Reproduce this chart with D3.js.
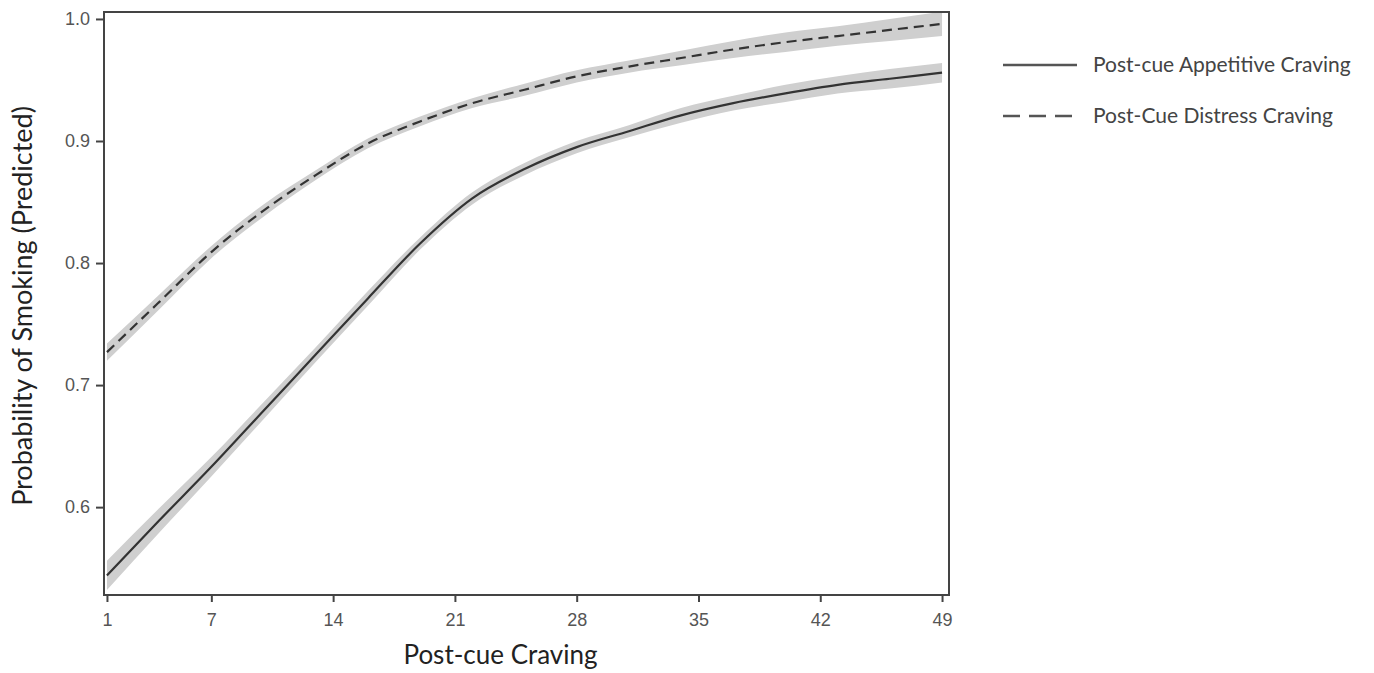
<!doctype html>
<html>
<head>
<meta charset="UTF-8">
<title>Probability of Smoking</title>
<style>
  body { margin: 0; background: #fff; }
</style>
</head>
<body>
<div id="chart"></div>
<script src="https://cdn.jsdelivr.net/npm/d3@7"></script>
<script>
// values
var craving = [1, 4, 7, 10, 13, 16, 19, 22, 25, 28, 31, 34, 37, 40, 43, 46, 49];
var appetitive = [0.544, 0.589, 0.633, 0.679, 0.725, 0.771, 0.816, 0.853, 0.877, 0.895, 0.908, 0.921, 0.931, 0.939, 0.946, 0.951, 0.956];
var appetitiveCI = [0.012, 0.010, 0.008, 0.007, 0.006, 0.006, 0.005, 0.005, 0.005, 0.005, 0.005, 0.006, 0.006, 0.007, 0.007, 0.008, 0.008];
var distress = [0.727, 0.768, 0.809, 0.843, 0.872, 0.898, 0.916, 0.931, 0.942, 0.953, 0.961, 0.968, 0.975, 0.981, 0.986, 0.991, 0.996];
var distressCI = [0.007, 0.006, 0.005, 0.005, 0.004, 0.004, 0.004, 0.004, 0.005, 0.005, 0.005, 0.006, 0.007, 0.008, 0.008, 0.009, 0.010];
var xTicks = [1, 7, 14, 21, 28, 35, 42, 49];
var yTicks = [0.6, 0.7, 0.8, 0.9, 1.0];
var seriesNames = ["Post-cue Appetitive Craving", "Post-Cue Distress Craving"];

var W = 1374, H = 673;
var margin = {top: 12, right: 425, bottom: 78, left: 104};
var width = W - margin.left - margin.right,
    height = H - margin.top - margin.bottom;

var svg = d3.select("#chart").append("svg")
    .attr("width", W).attr("height", H);
var g = svg.append("g")
    .attr("transform", "translate(" + margin.left + "," + margin.top + ")");

var x = d3.scaleLinear().domain([0.83, 49.4]).range([0, width]);
var y = d3.scaleLinear().domain([0.528, 1.0057]).range([height, 0]);

g.append("clipPath").attr("id", "clip")
  .append("rect").attr("width", width).attr("height", height);

function rows(vals, ci) {
  return craving.map(function(c, i) { return {x: c, y: vals[i], lo: vals[i] - ci[i], hi: vals[i] + ci[i]}; });
}
var series = [
  {name: seriesNames[0], data: rows(appetitive, appetitiveCI), dash: null},
  {name: seriesNames[1], data: rows(distress, distressCI), dash: "10,6"}
];

var area = d3.area()
    .x(function(d) { return x(d.x); })
    .y0(function(d) { return y(d.lo); })
    .y1(function(d) { return y(d.hi); })
    .curve(d3.curveMonotoneX);
var line = d3.line()
    .x(function(d) { return x(d.x); })
    .y(function(d) { return y(d.y); })
    .curve(d3.curveMonotoneX);

var plot = g.append("g").attr("clip-path", "url(#clip)");
series.forEach(function(s) {
  plot.append("path").datum(s.data)
    .attr("d", area)
    .attr("fill", "#cfcfcf");
});
series.forEach(function(s) {
  plot.append("path").datum(s.data)
    .attr("d", line)
    .attr("fill", "none")
    .attr("stroke", "#333")
    .attr("stroke-width", 2.2)
    .attr("stroke-dasharray", s.dash);
});

// frame
g.append("rect")
  .attr("width", width).attr("height", height)
  .attr("fill", "none").attr("stroke", "#444").attr("stroke-width", 2);

function styleAxis(a) {
  a.select(".domain").remove();
  a.selectAll(".tick line").attr("stroke", "#444").attr("stroke-width", 2);
  a.selectAll(".tick text")
    .attr("fill", "#555")
    .style("font-family", "'Liberation Sans', Arial, sans-serif")
    .style("font-size", "18px");
}

// axes
g.append("g")
  .attr("transform", "translate(0," + height + ")")
  .call(d3.axisBottom(x).tickValues(xTicks).tickSizeOuter(0).tickSize(7).tickPadding(11))
  .call(styleAxis);

g.append("g")
  .call(d3.axisLeft(y).tickValues(yTicks).tickFormat(d3.format(".1f")).tickSizeOuter(0).tickSize(8).tickPadding(6))
  .call(styleAxis);

// axis titles
svg.append("text")
  .attr("x", margin.left + width / 2 - 26).attr("y", 664)
  .attr("text-anchor", "middle")
  .attr("font-family", "Lato, 'Open Sans', sans-serif")
  .attr("font-size", 26)
  .attr("fill", "#222")
  .text("Post-cue Craving");

svg.append("text")
  .attr("transform", "translate(32," + 306 + ") rotate(-90)")
  .attr("text-anchor", "middle")
  .attr("font-family", "Lato, 'Open Sans', sans-serif")
  .attr("font-size", 27)
  .attr("fill", "#222")
  .text("Probability of Smoking (Predicted)");

// legend
var legend = svg.append("g").attr("transform", "translate(1003,65)");
series.forEach(function(s, i) {
  var row = legend.append("g").attr("transform", "translate(0," + (i * 51) + ")");
  row.append("line")
    .attr("x1", 0).attr("x2", 74)
    .attr("stroke", "#555").attr("stroke-width", 2.5)
    .attr("stroke-dasharray", s.dash ? "17,9" : null);
  row.append("text")
    .attr("x", 90).attr("y", 7)
    .attr("font-family", "Lato, 'Open Sans', sans-serif")
    .attr("font-size", 21)
    .attr("fill", "#444")
    .text(s.name);
});
</script>
</body>
</html>
